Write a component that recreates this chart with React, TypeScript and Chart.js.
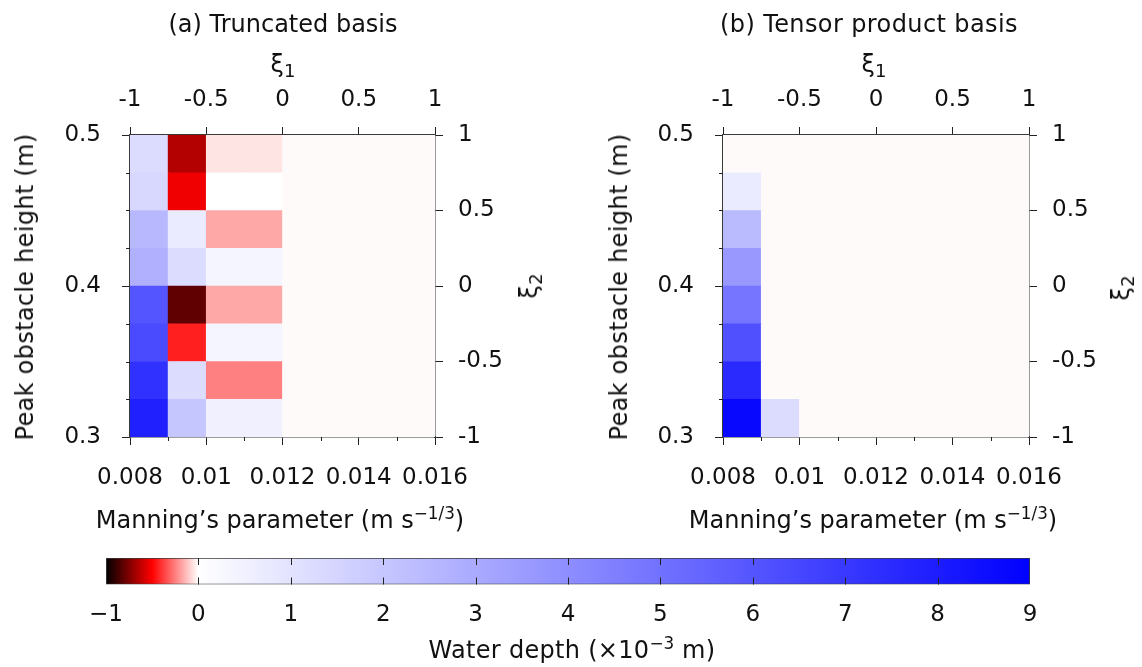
import React, { useEffect, useRef } from "react";
import { Chart, registerables } from "chart.js";

Chart.register(...registerables);

// ---------- data ----------
// Manning's parameter cells (centres of 0.001-wide bins), 0.008 → 0.016
const manningCells = ["0.0085", "0.0095", "0.0105", "0.0115", "0.0125", "0.0135", "0.0145", "0.0155"];
// Peak obstacle height bin edges (m)
const heightEdges = [0.3, 0.325, 0.35, 0.375, 0.4, 0.425, 0.45, 0.475, 0.5];

// Water depth (×10^-3 m); rows bottom (0.3) → top (0.5), columns left → right
const truncatedDepth = [
  [7.87, 2.01, 0.53, 0.53, -0.01, -0.01, -0.01, -0.01],
  [7.31, 1.24, -0.25, -0.25, -0.01, -0.01, -0.01, -0.01],
  [6.39, -0.44, 0.35, 0.35, -0.01, -0.01, -0.01, -0.01],
  [6.0, -0.81, -0.17, -0.17, -0.01, -0.01, -0.01, -0.01],
  [2.79, 1.24, 0.35, 0.35, -0.01, -0.01, -0.01, -0.01],
  [2.51, 0.71, -0.17, -0.17, -0.01, -0.01, -0.01, -0.01],
  [1.38, -0.53, 0.0, 0.0, -0.01, -0.01, -0.01, -0.01],
  [1.24, -0.65, -0.053, -0.053, -0.01, -0.01, -0.01, -0.01],
];
const tensorDepth = [
  [8.72, 1.24, -0.01, -0.01, -0.01, -0.01, -0.01, -0.01],
  [7.52, -0.01, -0.01, -0.01, -0.01, -0.01, -0.01, -0.01],
  [6.18, -0.01, -0.01, -0.01, -0.01, -0.01, -0.01, -0.01],
  [4.87, -0.01, -0.01, -0.01, -0.01, -0.01, -0.01, -0.01],
  [3.64, -0.01, -0.01, -0.01, -0.01, -0.01, -0.01, -0.01],
  [2.44, -0.01, -0.01, -0.01, -0.01, -0.01, -0.01, -0.01],
  [0.71, -0.01, -0.01, -0.01, -0.01, -0.01, -0.01, -0.01],
  [-0.01, -0.01, -0.01, -0.01, -0.01, -0.01, -0.01, -0.01],
];

// colour map
const cbStops = [-1, -0.5, 0, 9];
const cbColors = ["#000000", "#ff0000", "#ffffff", "#0000ff"];
const cbRange = [-1, 9];

// ---------- helpers ----------
const FONT = "'DejaVu Sans', sans-serif";
const TEXT = "#111111";
const AXIS = "#3a3a3a";
const TICK = "#222222";
const TICK_SIZE = 23;

function hexRgb(h: string) {
  return [parseInt(h.slice(1, 3), 16), parseInt(h.slice(3, 5), 16), parseInt(h.slice(5, 7), 16)];
}
function depthColor(v: number) {
  let i = 0;
  while (i < cbStops.length - 2 && v > cbStops[i + 1]) i++;
  const t = Math.max(0, Math.min(1, (v - cbStops[i]) / (cbStops[i + 1] - cbStops[i])));
  const a = hexRgb(cbColors[i]);
  const b = hexRgb(cbColors[i + 1]);
  const c = a.map((x, k) => Math.round(x + (b[k] - x) * t));
  return `rgb(${c[0]},${c[1]},${c[2]})`;
}

const isMajorHeight = (v: number) => Math.round(v * 1000) % 100 === 0;
const isMajorManning = (v: number) => Math.round(v * 1000) % 2 === 0;

const minorTicks = {
  id: "minorTicks",
  afterDraw(chart: any) {
    const { ctx, chartArea: a } = chart;
    const y = chart.scales.y;
    const xb = chart.scales.xb;
    ctx.save();
    ctx.strokeStyle = TICK;
    ctx.lineWidth = 1;
    ctx.beginPath();
    y.ticks.forEach((t: any) => {
      if (!isMajorHeight(t.value)) {
        const p = Math.round(y.getPixelForValue(t.value)) + 0.5;
        ctx.moveTo(a.left - 4, p);
        ctx.lineTo(a.left, p);
      }
    });
    xb.ticks.forEach((t: any) => {
      if (!isMajorManning(t.value)) {
        const p = Math.round(xb.getPixelForValue(t.value)) + 0.5;
        ctx.moveTo(p, a.bottom);
        ctx.lineTo(p, a.bottom + 4);
      }
    });
    ctx.stroke();
    ctx.restore();
  },
};

function panelConfig(values: number[][], box: { W: number; H: number; left: number; right: number; top: number; bottom: number }) {
  const datasets = values.map((row, r) => ({
    data: row.map(() => [heightEdges[r], heightEdges[r + 1]]),
    backgroundColor: row.map(depthColor),
    borderWidth: 0,
    barPercentage: 1,
    categoryPercentage: 1,
    grouped: false,
    xAxisID: "x",
    yAxisID: "y",
  }));
  const tickFont = { family: FONT, size: TICK_SIZE };
  const border = { display: true, color: AXIS, width: 1.5 };
  const majorGrid = { display: true, drawOnChartArea: false, drawTicks: true, tickLength: 8, color: TICK, lineWidth: 1, offset: false };
  return {
    type: "bar",
    data: { labels: manningCells, datasets },
    options: {
      responsive: false,
      animation: false,
      events: [],
      layout: { padding: 0 },
      plugins: { legend: { display: false }, tooltip: { enabled: false }, title: { display: false } },
      scales: {
        x: { type: "category", labels: manningCells, display: false, offset: true },
        xb: {
          type: "linear",
          position: "bottom",
          offset: false,
          min: 0.008,
          max: 0.016,
          ticks: {
            stepSize: 0.001,
            autoSkip: false,
            maxRotation: 0,
            padding: 19,
            color: TEXT,
            font: tickFont,
            callback: (v: number) => (isMajorManning(v) ? String(parseFloat(v.toFixed(3))) : ""),
          },
          grid: { ...majorGrid, color: (c: any) => (c.tick && isMajorManning(c.tick.value) ? TICK : "rgba(0,0,0,0)") },
          border,
          afterFit: (s: any) => { s.height = box.H - box.bottom; },
        },
        xt: {
          type: "linear",
          position: "top",
          offset: false,
          min: -1,
          max: 1,
          ticks: { stepSize: 0.5, autoSkip: false, maxRotation: 0, padding: 13, color: TEXT, font: tickFont, callback: (v: number) => String(v) },
          grid: majorGrid,
          border,
          afterFit: (s: any) => { s.height = box.top; },
        },
        y: {
          type: "linear",
          position: "left",
          offset: false,
          min: 0.3,
          max: 0.5,
          ticks: {
            stepSize: 0.025,
            autoSkip: false,
            padding: 21,
            color: TEXT,
            font: tickFont,
            callback: (v: number) => (isMajorHeight(v) ? v.toFixed(1) : ""),
          },
          grid: { ...majorGrid, color: (c: any) => (c.tick && isMajorHeight(c.tick.value) ? TICK : "rgba(0,0,0,0)") },
          border,
          afterFit: (s: any) => { s.width = box.left; },
        },
        yr: {
          type: "linear",
          position: "right",
          offset: false,
          min: -1,
          max: 1,
          ticks: { stepSize: 0.5, autoSkip: false, padding: 15, color: TEXT, font: tickFont, callback: (v: number) => String(v) },
          grid: majorGrid,
          border,
          afterFit: (s: any) => { s.width = box.W - box.right; },
        },
      },
    },
    plugins: [minorTicks],
  };
}

const colorbarTicks = {
  id: "colorbarTicks",
  afterDatasetsDraw(chart: any) {
    const { ctx, chartArea: a } = chart;
    const x = chart.scales.x;
    ctx.save();
    ctx.strokeStyle = TICK;
    ctx.lineWidth = 1;
    ctx.beginPath();
    x.ticks.forEach((t: any) => {
      if (t.value <= cbRange[0] || t.value >= cbRange[1]) return;
      const p = Math.round(x.getPixelForValue(t.value)) + 0.5;
      ctx.moveTo(p, a.top);
      ctx.lineTo(p, a.top + 7);
      ctx.moveTo(p, a.bottom);
      ctx.lineTo(p, a.bottom - 7);
    });
    ctx.stroke();
    ctx.restore();
  },
};

function colorbarConfig(box: { W: number; H: number; left: number; right: number; top: number; bottom: number }) {
  return {
    type: "bar",
    data: {
      labels: ["depth"],
      datasets: [
        {
          data: [[cbRange[0], cbRange[1]]],
          backgroundColor: (c: any) => {
            const chart = c.chart;
            const sx = chart.scales && chart.scales.x;
            if (!chart.chartArea || !sx) return "#ffffff";
            const x0 = sx.getPixelForValue(cbRange[0]);
            const x1 = sx.getPixelForValue(cbRange[1]);
            const g = chart.ctx.createLinearGradient(x0, 0, x1, 0);
            cbStops.forEach((s, i) => g.addColorStop((s - cbRange[0]) / (cbRange[1] - cbRange[0]), cbColors[i]));
            return g;
          },
          borderColor: AXIS,
          borderWidth: 1.2,
          borderSkipped: false,
          barPercentage: 1,
          categoryPercentage: 1,
        },
      ],
    },
    options: {
      indexAxis: "y",
      responsive: false,
      animation: false,
      events: [],
      layout: { padding: { left: box.left, right: box.W - box.right, top: box.top, bottom: 0 } },
      plugins: { legend: { display: false }, tooltip: { enabled: false } },
      scales: {
        x: {
          type: "linear",
          position: "bottom",
          offset: false,
          min: cbRange[0],
          max: cbRange[1],
          ticks: {
            stepSize: 1,
            autoSkip: false,
            maxRotation: 0,
            padding: 17,
            color: TEXT,
            font: { family: FONT, size: TICK_SIZE },
            callback: (v: number) => (v < 0 ? "\u2212" + Math.abs(v) : String(v)),
          },
          grid: { display: false, drawTicks: false },
          border: { display: false },
          afterFit: (s: any) => { s.height = box.H - box.bottom; },
        },
        y: { type: "category", labels: ["depth"], display: false, offset: true },
      },
    },
    plugins: [colorbarTicks],
  };
}

function ChartCanvas({ config, x, y, w, h }: { config: any; x: number; y: number; w: number; h: number }) {
  const ref = useRef<HTMLCanvasElement | null>(null);
  useEffect(() => {
    if (!ref.current) return;
    const chart = new Chart(ref.current, config);
    return () => chart.destroy();
  }, []);
  return (
    <canvas
      ref={ref}
      width={w}
      height={h}
      style={{ position: "absolute", left: x, top: y, width: w, height: h }}
    />
  );
}

function Label({ x, y, rotate, spacing, children }: { x: number; y: number; rotate?: boolean; spacing?: number; children: any }) {
  return (
    <div
      style={{
        position: "absolute",
        left: x,
        top: y,
        transform: `translate(-50%, -50%)${rotate ? " rotate(-90deg)" : ""}`,
        whiteSpace: "nowrap",
        fontFamily: FONT,
        fontSize: 24,
        lineHeight: 1,
        letterSpacing: `${spacing === undefined ? 0.3 : spacing}px`,
        color: TEXT,
      }}
    >
      {children}
    </div>
  );
}

const Sub = ({ children }: { children: any }) => (
  <span style={{ fontSize: "0.75em", verticalAlign: "-0.25em", lineHeight: 0, letterSpacing: 0 }}>{children}</span>
);
const Sup = ({ children }: { children: any }) => (
  <span style={{ fontSize: "0.7em", verticalAlign: "0.55em", lineHeight: 0, letterSpacing: 0 }}>{children}</span>
);

export default function App() {
  const boxA = { W: 571, H: 540, left: 130, right: 435, top: 135, bottom: 437 };
  const boxB = { W: 571, H: 540, left: 152, right: 458, top: 135, bottom: 437 };
  const boxC = { W: 1142, H: 127, left: 106, right: 1030, top: 18, bottom: 44.5 };
  return (
    <div style={{ position: "fixed", left: 0, top: 0, width: 1142, height: 667, background: "#ffffff", overflow: "hidden" }}>
      <ChartCanvas config={panelConfig(truncatedDepth, boxA)} x={0} y={0} w={571} h={540} />
      <ChartCanvas config={panelConfig(tensorDepth, boxB)} x={571} y={0} w={571} h={540} />
      <ChartCanvas config={colorbarConfig(boxC)} x={0} y={540} w={1142} h={127} />

      <Label x={283} y={24} spacing={0}>(a) Truncated basis</Label>
      <Label x={283} y={64}>ξ<Sub>1</Sub></Label>
      <Label x={280} y={520} spacing={0}>Manning’s parameter (m s<Sup>−1/3</Sup>)</Label>
      <Label x={25} y={287} rotate>Peak obstacle height (m)</Label>
      <Label x={529} y={286} rotate>ξ<Sub>2</Sub></Label>

      <Label x={869} y={24} spacing={0.4}>(b) Tensor product basis</Label>
      <Label x={874} y={64}>ξ<Sub>1</Sub></Label>
      <Label x={873} y={520} spacing={0}>Manning’s parameter (m s<Sup>−1/3</Sup>)</Label>
      <Label x={619} y={287} rotate>Peak obstacle height (m)</Label>
      <Label x={1121} y={288} rotate>ξ<Sub>2</Sub></Label>

      <Label x={572} y={650}>Water depth (×10<Sup>−3</Sup> m)</Label>
    </div>
  );
}
